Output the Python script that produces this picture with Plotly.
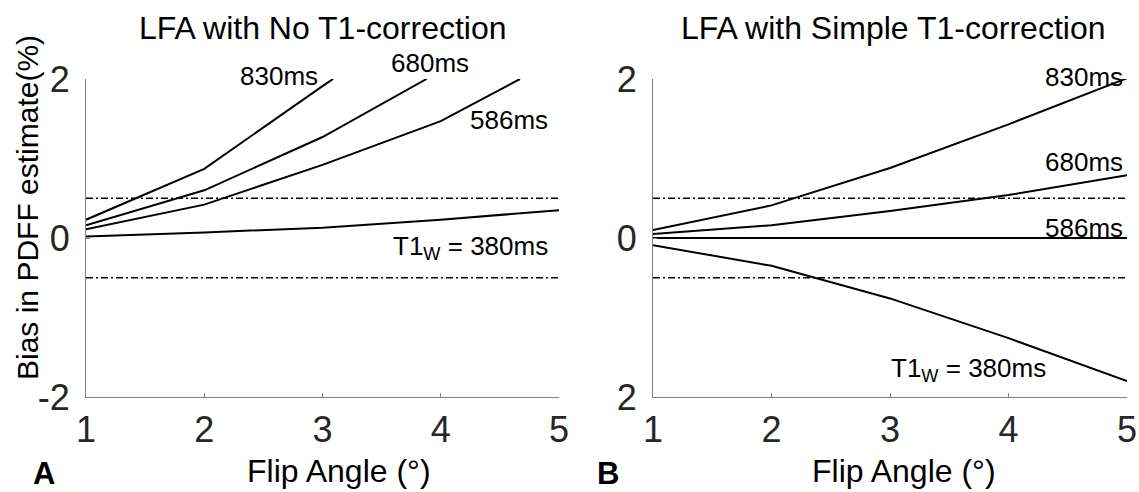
import plotly.graph_objects as go

# ---------------- data ----------------
flip = [1, 2, 3, 4, 5]

# Panel A: LFA with no T1-correction (curves leave the top of the axes)
a830_x = [1, 2, 3, 3.09]
a830_y = [0.23, 0.87, 1.91, 2.0]
a680_x = [1, 2, 3, 3.88]
a680_y = [0.16, 0.60, 1.27, 2.0]
a586_x = [1, 2, 3, 4, 4.67]
a586_y = [0.11, 0.42, 0.92, 1.47, 2.0]
a380_y = [0.02, 0.07, 0.13, 0.23, 0.35]

# Panel B: LFA with simple T1-correction
b830_y = [0.10, 0.41, 0.88, 1.43, 2.01]
b680_y = [0.05, 0.16, 0.34, 0.54, 0.79]
b586_y = [0.0, 0.0, 0.0, 0.0, 0.0]
b380_y = [-0.09, -0.35, -0.76, -1.26, -1.80]

limit_lo, limit_hi = -0.5, 0.5

y_ticks = [-2, 0, 2]
y_text_a = ["-2", "0", "2"]
y_text_b = ["2", "0", "2"]
x_ticks = [1, 2, 3, 4, 5]
x_range = [1, 5]
y_range = [-2, 2]

FONT = "Liberation Sans, Arial, sans-serif"
LINE = dict(color="black", width=2)
DASH = dict(color="black", width=1.5, dash="7px,3px,2px,3px")

fig = go.Figure()

def add(x, y, xa, ya, line):
    fig.add_trace(go.Scatter(x=x, y=y, mode="lines", line=line,
                             xaxis=xa, yaxis=ya, showlegend=False,
                             hoverinfo="skip"))

for xa, ya in [("x", "y"), ("x2", "y2")]:
    add(x_range, [limit_hi, limit_hi], xa, ya, DASH)
    add(x_range, [limit_lo, limit_lo], xa, ya, DASH)

add(a830_x, a830_y, "x", "y", LINE)
add(a680_x, a680_y, "x", "y", LINE)
add(a586_x, a586_y, "x", "y", LINE)
add(flip, a380_y, "x", "y", LINE)

add(flip, b830_y, "x2", "y2", LINE)
add(flip, b680_y, "x2", "y2", LINE)
add(flip, b586_y, "x2", "y2", LINE)
add(flip, b380_y, "x2", "y2", LINE)

W, H = 1139, 492
axA = (86 / W, 559 / W)
axB = (653 / W, 1127 / W)
ydom = (1 - 397 / H, 1 - 79 / H)

axis_common = dict(
    showline=True, linecolor="#808080", linewidth=1, mirror=False,
    showgrid=False, zeroline=False, ticks="inside", ticklen=4,
    tickcolor="#808080", tickwidth=1, automargin=False,
    tickfont=dict(family=FONT, size=36, color="#262626"),
)

fig.update_layout(
    width=W, height=H,
    margin=dict(l=0, r=0, t=0, b=0, autoexpand=False),
    paper_bgcolor="white", plot_bgcolor="white",
    xaxis=dict(domain=axA, range=x_range, tickvals=x_ticks, anchor="y",
               ticklabelstandoff=1, **axis_common),
    yaxis=dict(domain=ydom, range=y_range, tickvals=y_ticks,
               ticktext=y_text_a, anchor="x", ticklabelstandoff=8,
               **axis_common),
    xaxis2=dict(domain=axB, range=x_range, tickvals=x_ticks, anchor="y2",
                ticklabelstandoff=1, **axis_common),
    yaxis2=dict(domain=ydom, range=y_range, tickvals=y_ticks,
                ticktext=y_text_b, anchor="x2", ticklabelstandoff=8,
                **axis_common),
)

ann = []
def txt(text, x, y, size, xanchor="center", bold=False, angle=0):
    ann.append(dict(text=("<b>%s</b>" % text) if bold else text,
                    x=x, y=y, xref="paper", yref="paper", showarrow=False,
                    xanchor=xanchor, yanchor="middle", textangle=angle,
                    font=dict(family=FONT, size=size, color="black")))

def pos(panel, xv, yv):
    dom = axA if panel == "A" else axB
    px = dom[0] + (xv - x_range[0]) / (x_range[1] - x_range[0]) * (dom[1] - dom[0])
    py = ydom[0] + (yv - y_range[0]) / (y_range[1] - y_range[0]) * (ydom[1] - ydom[0])
    return px, py

# panel titles
txt("LFA with No T1-correction", (138 + 508) / 2 / W, 1 - 28 / H, 32)
txt("LFA with Simple T1-correction", (axB[0] + axB[1]) / 2 + 3 / W, 1 - 28 / H, 32)
# x-axis titles
txt("Flip Angle (°)", 339 / W, 1 - 471 / H, 32)
txt("Flip Angle (°)", 904 / W, 1 - 471 / H, 32)
# panel letters
txt("A", 44 / W, 1 - 473 / H, 31, bold=True)
txt("B", 608 / W, 1 - 473 / H, 31, bold=True)

# curve labels, panel A (positions in data units)
txt("830ms", *pos("A", 2.98, 2.04), 26, xanchor="right")
txt("680ms", *pos("A", 3.91, 2.2), 26)
txt("586ms", *pos("A", 4.58, 1.49), 26)
txt("T1<sub>W</sub> = 380ms", *pos("A", 4.25, -0.12), 26)
# curve labels, panel B
txt("830ms", *pos("B", 4.98, 2.03), 26, xanchor="right")
txt("680ms", *pos("B", 4.98, 0.95), 26, xanchor="right")
txt("586ms", *pos("B", 4.98, 0.13), 26, xanchor="right")
txt("T1<sub>W</sub> = 380ms", *pos("B", 3.66, -1.66), 26)

# y-axis title (vertical)
txt("Bias in PDFF estimate(%)", 27 / W, 1 - 208 / H, 30, angle=-90)

fig.update_layout(annotations=ann)
fig.write_html("out.html")
